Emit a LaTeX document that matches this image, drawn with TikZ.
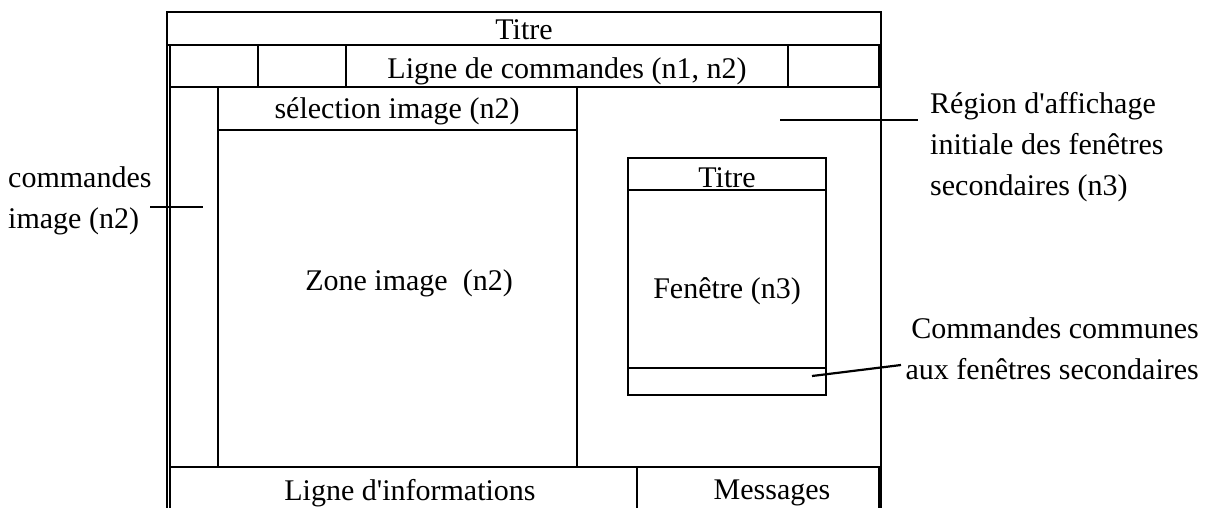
\documentclass[tikz,border=0pt]{standalone}
\usepackage{fontspec}
\setmainfont{Liberation Serif}[Ligatures=TeXOff]
\begin{document}
\begin{tikzpicture}[x=1pt,y=-1pt,
  box/.style={draw=black,line width=2.2pt},
  frame/.style={draw=black,line width=2.8pt},
  lbl/.style={inner sep=0pt,font=\fontsize{30}{41}\selectfont},
  ann/.style={draw=black,line width=2.2pt}]
\useasboundingbox (0,0) rectangle (1215,507);
% outer frame
\draw[frame] (167,512) -- (167,12) -- (881,12) -- (881,512);
\draw[frame] (167,45) -- (881,45);
% command row
\draw[box] (170,45) rectangle (258,87);
\draw[box] (258,45) rectangle (346,87);
\draw[box] (346,45) rectangle (788,87);
\draw[box] (788,45) rectangle (879,87);
% left column and image areas
\draw[box] (170,87) rectangle (218,467);
\draw[box] (218,87) rectangle (577,130);
\draw[box] (218,130) rectangle (577,467);
\draw[box] (577,87) -- (879,87);
% secondary window
\draw[box] (628,158) rectangle (826,395);
\draw[box] (628,190) -- (826,190);
\draw[box] (628,368) -- (826,368);
% bottom row
\draw[box] (170,467) rectangle (637,512);
\draw[box] (637,467) rectangle (879,512);
% texts
\node[lbl] (titre) at (524,30) {Titre};
\node[lbl] (cmd) at (567,71) {Ligne de commandes (n1, n2)};
\node[lbl] (sel) at (397,111) {sélection image (n2)};
\node[lbl] (zone) at (409,283) {Zone image\ \ (n2)};
\node[lbl] (wtitre) at (727,178) {Titre};
\node[lbl] (fen) at (727,291) {Fenêtre (n3)};
\node[lbl] (info) at (410,493) {Ligne d'informations};
\node[lbl] (msg) at (772,493) {Messages};
% annotations
\node[lbl,align=left,anchor=west] (region) at (930,147) {Région d'affichage\\initiale des fenêtres\\secondaires (n3)};
\node[lbl,align=left,anchor=west] (cmdimg) at (8,201) {commandes\\image (n2)};
\node[lbl,align=right,anchor=east] (common) at (1199,349) {Commandes communes\\aux fenêtres secondaires};
\coordinate (r1) at (780,120);
\coordinate (r2) at (918,120);
\draw[ann] (r1) -- (r2);
\coordinate (c1) at (150,207);
\coordinate (c2) at (203,207);
\draw[ann] (c1) -- (c2);
\coordinate (k1) at (812,376);
\coordinate (k2) at (901,365);
\draw[ann] (k1) -- (k2);
\end{tikzpicture}
\end{document}
